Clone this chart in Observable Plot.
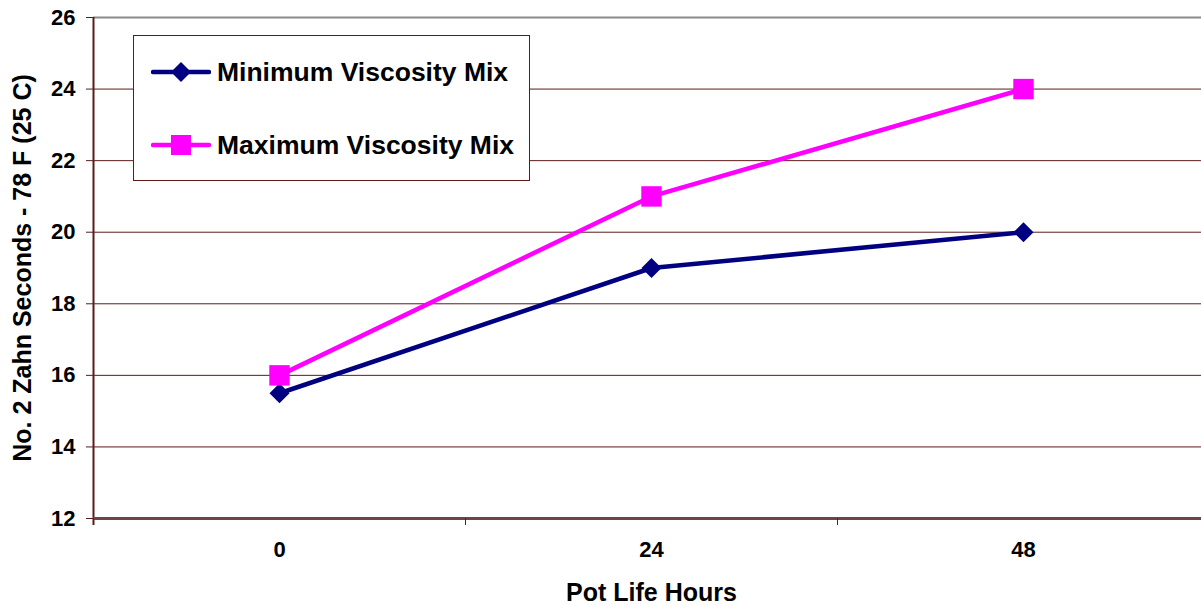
<!DOCTYPE html>
<html>
<head>
<meta charset="utf-8">
<script src="https://cdn.jsdelivr.net/npm/d3@7"></script>
<script src="https://cdn.jsdelivr.net/npm/@observablehq/plot@0.6"></script>
<style>
  html, body { margin: 0; padding: 0; background: white; }
  #wrap { position: relative; width: 1201px; height: 606px; overflow: hidden; font-family: "Liberation Sans", Arial, sans-serif; }
  #wrap svg { max-width: none !important; }
  #legend { position: absolute; left: 133px; top: 35px; width: 397px; height: 146px; border: 1px solid #5c1a1a; background: white; box-sizing: border-box; }
  .entry { position: absolute; left: 17px; height: 30px; display: flex; align-items: center; font-weight: bold; font-size: 26.5px; color: black; white-space: nowrap; }
  .entry svg { margin-right: 6px; }
</style>
</head>
<body>
<div id="wrap"></div>
<script>
const hours = [0, 24, 48];
const minVisc = [15.5, 19, 20];
const maxVisc = [16, 21, 24];
const yTicks = [12, 14, 16, 18, 20, 22, 24, 26];
const xEdges = [-12, 12, 36, 60];
const seriesNames = ["Minimum Viscosity Mix", "Maximum Viscosity Mix"];
const seriesColors = ["#000080", "#ff00ff"];
const xTitle = "Pot Life Hours";
const yTitle = "No. 2 Zahn Seconds - 78 F (25 C)";

const data = [
  ...hours.map((h, i) => ({hour: h, value: minVisc[i], series: seriesNames[0]})),
  ...hours.map((h, i) => ({hour: h, value: maxVisc[i], series: seriesNames[1]}))
];

const chart = Plot.plot({
  width: 1209,
  height: 606,
  marginLeft: 93,
  marginRight: 0,
  marginTop: 17,
  marginBottom: 88,
  style: {fontFamily: "'Liberation Sans', Arial, sans-serif", background: "white", overflow: "visible", maxWidth: "none"},
  x: {domain: [-12, 60]},
  y: {domain: [12, 26]},
  color: {domain: seriesNames, range: seriesColors},
  marks: [
    Plot.ruleY(yTicks.filter(t => t > 12 && t < 26), {stroke: "#5c1a1a", strokeWidth: 1}),
    Plot.ruleY([26], {stroke: "#8a8a8a", strokeWidth: 2}),
    Plot.axisY({ticks: yTicks, tickSize: 7, tickPadding: 11, fontSize: 22, fontWeight: "bold", label: null, stroke: "#5c1a1a", fill: "black"}),
    Plot.ruleX([-12], {stroke: "#5c1a1a", strokeWidth: 2, insetBottom: -7}),
    Plot.ruleY([12], {stroke: "#6b4646", strokeWidth: 3}),
    Plot.axisX({ticks: xEdges, tickSize: 7, tickFormat: () => "", stroke: "#5c1a1a", label: null}),
    Plot.axisX({ticks: hours, tickSize: 0, tickPadding: 23, fontSize: 22, fontWeight: "bold", fill: "black", label: null}),
    Plot.lineY(data, {x: "hour", y: "value", z: "series", stroke: "series", strokeWidth: 4.5}),
    Plot.dot(data.filter(d => d.series === seriesNames[0]), {x: "hour", y: "value", symbol: () => "diamond2", fill: "series", r: 9}),
    Plot.dot(data.filter(d => d.series === seriesNames[1]), {x: "hour", y: "value", symbol: () => "square2", fill: "series", r: 13}),
    Plot.text([xTitle], {frameAnchor: "bottom", dy: 82, fontSize: 25, fontWeight: "bold", fill: "black"}),
    Plot.text([yTitle], {frameAnchor: "left", dx: -71, rotate: -90, textAnchor: "middle", fontSize: 25, fontWeight: "bold", fill: "black"})
  ]
});

const wrap = document.getElementById("wrap");
wrap.appendChild(chart);

const legend = document.createElement("div");
legend.id = "legend";
const swatches = [
  `<svg width="60" height="24"><line x1="2" y1="12" x2="58" y2="12" stroke="${seriesColors[0]}" stroke-width="4.5" stroke-linecap="round"/><path d="M30,2 L40,12 L30,22 L20,12 Z" fill="${seriesColors[0]}"/></svg>`,
  `<svg width="60" height="24"><line x1="2" y1="12" x2="58" y2="12" stroke="${seriesColors[1]}" stroke-width="4.5" stroke-linecap="round"/><rect x="20" y="2" width="20" height="20" fill="${seriesColors[1]}"/></svg>`
];
const tops = [21, 94];
seriesNames.forEach((name, i) => {
  const e = document.createElement("div");
  e.className = "entry";
  e.style.top = tops[i] + "px";
  e.innerHTML = swatches[i] + "<span>" + name + "</span>";
  legend.appendChild(e);
});
wrap.appendChild(legend);
</script>
</body>
</html>
